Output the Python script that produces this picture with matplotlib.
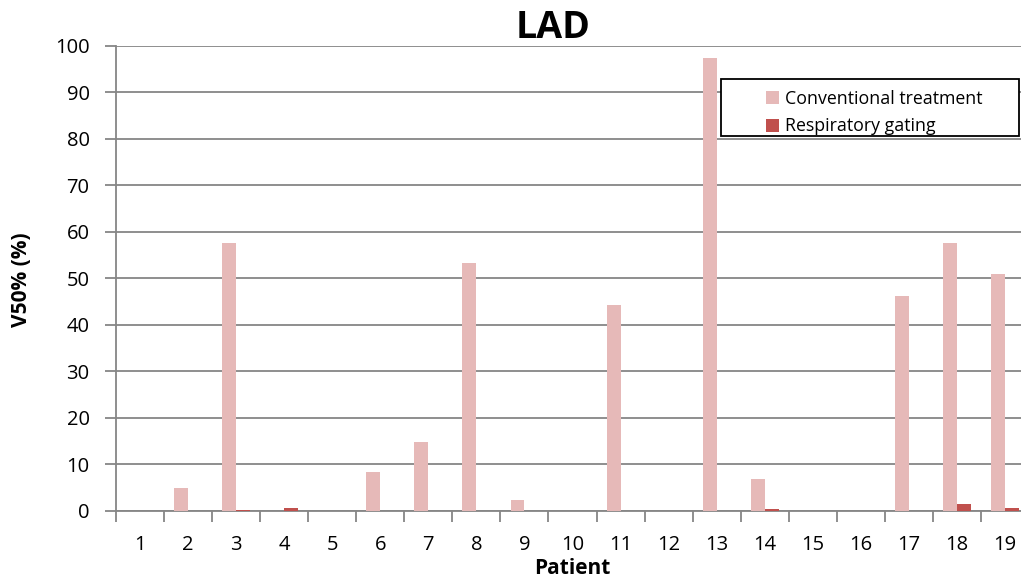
import matplotlib.pyplot as plt
from matplotlib.patches import Rectangle
import numpy as np

patients = [str(i) for i in range(1, 20)]
conventional = [0, 4.8, 57.6, 0, 0, 8.2, 14.8, 53.3, 2.2, 0, 44.2, 0, 97.4, 6.7, 0, 0, 46.2, 57.6, 51.0]
gating = [0, 0, 0.05, 0.5, 0, 0, 0, 0, 0, 0, 0, 0, 0, 0.3, 0, 0, 0, 1.4, 0.6]

plt.rcParams['font.family'] = ['Open Sans', 'DejaVu Sans']

fig = plt.figure(figsize=(10.21, 5.8), dpi=100)
W, H = 1021, 580
# axes spans from x=116 to x=1029 px (right end clipped), y=0 at 510.5, y=100 at 46
ax = fig.add_axes([116 / W, 1 - 510.5 / H, (1029 - 116) / W, (510.5 - 46) / H])

x = np.arange(len(patients))
bw = 0.29
ax.bar(x - bw / 2, conventional, bw, color='#E6B9B8', label='Conventional treatment', zorder=3)
ax.bar(x + bw / 2, gating, bw, color='#C0504D', label='Respiratory gating', zorder=3)

ax.set_xlim(-0.5, len(patients) - 0.5)
ax.set_ylim(0, 100)
ax.set_yticks(range(0, 101, 10))
ax.set_xticks(x)
ax.set_xticklabels(patients)
ax.set_xticks(np.arange(-0.5, len(patients), 1), minor=True)
ax.tick_params(axis='x', which='major', length=0, pad=18, labelsize=14.5)
ax.tick_params(axis='x', which='minor', length=8, color='#868686', width=1.3)
ax.tick_params(axis='y', length=8, color='#868686', width=1.3, labelsize=14.5, pad=11)
ax.yaxis.grid(True, color='#868686', linewidth=1.3, zorder=0)

for s in ['top', 'right']:
    ax.spines[s].set_visible(False)
for s in ['left', 'bottom']:
    ax.spines[s].set_color('#868686')
    ax.spines[s].set_linewidth(1.3)

fig.text(553 / W, 1 - 28 / H, 'LAD', ha='center', va='center', fontsize=27, fontweight='bold')
fig.text(572 / W, 1 - 569 / H, 'Patient', ha='center', va='center', fontsize=15, fontweight='bold')
fig.text(22 / W, 1 - 280 / H, 'V50% (%)', ha='center', va='center', rotation=90, fontsize=15, fontweight='bold')

# legend box
fig.patches.append(Rectangle((721 / W, 1 - 136 / H), (1019 - 721) / W, (136 - 79) / H,
                             transform=fig.transFigure, facecolor='white', edgecolor='black',
                             linewidth=1.3, zorder=5))
leg = fig.legend(loc='upper left', bbox_to_anchor=(755 / W, 1 - 79 / H), frameon=False,
                 fontsize=12.8, handlelength=0.75, handleheight=0.75, handletextpad=0.35,
                 labelspacing=0.55, borderpad=0.1)
leg.set_zorder(6)

fig.savefig('out.png', dpi=100)
